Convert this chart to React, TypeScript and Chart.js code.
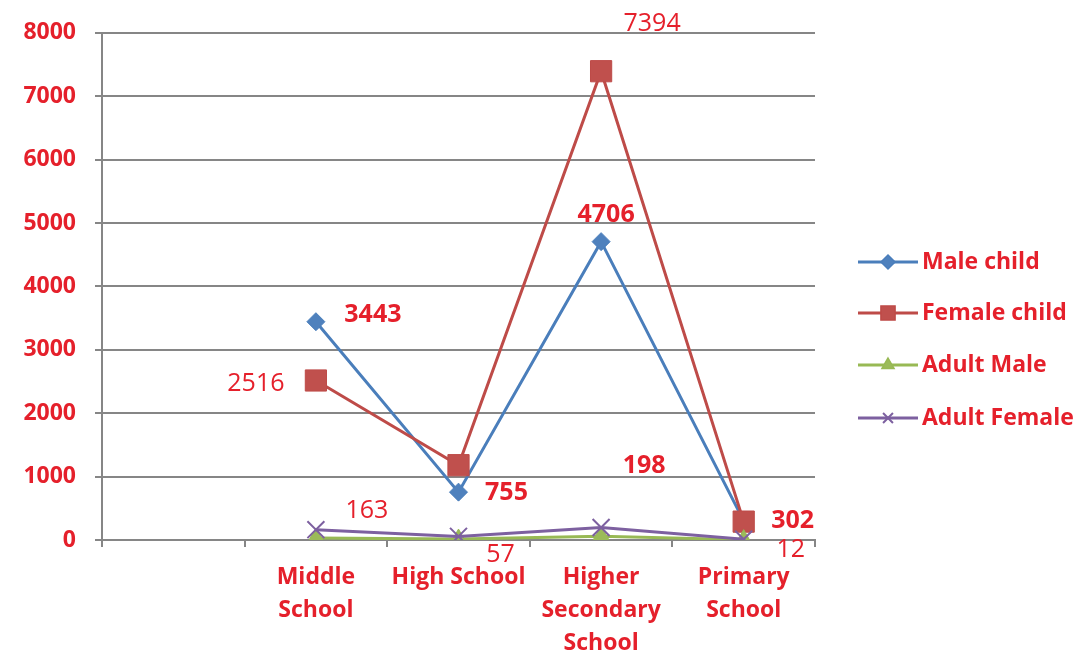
import React, { useEffect, useRef } from "react";
import { Chart, registerables } from "chart.js";

Chart.register(...registerables);

// ---- data ----
const categories: (string | string[])[] = [
  "",
  ["Middle", "School"],
  ["High School"],
  ["Higher", "Secondary", "School"],
  ["Primary", "School"],
];
const seriesNames = ["Male child", "Female child", "Adult Male", "Adult Female"];
const maleChild = [null, 3443, 755, 4706, 302];
const femaleChild = [null, 2516, 1180, 7394, 290];
const adultMale = [null, 30, 15, 60, 5];
const adultFemale = [null, 163, 57, 198, 12];
const yMin = 0;
const yMax = 8000;
const yStep = 1000;

// value labels: series index, point index, text, bold
const valueLabels = [
  { s: 0, i: 1, text: "3443", bold: true },
  { s: 1, i: 1, text: "2516", bold: false },
  { s: 0, i: 2, text: "755", bold: true },
  { s: 3, i: 1, text: "163", bold: false },
  { s: 3, i: 2, text: "57", bold: false },
  { s: 0, i: 3, text: "4706", bold: true },
  { s: 1, i: 3, text: "7394", bold: false },
  { s: 3, i: 3, text: "198", bold: true },
  { s: 0, i: 4, text: "302", bold: true },
  { s: 3, i: 4, text: "12", bold: false },
];
// label offsets from their point (style)
const labelOffsets = [
  [57, -7], [-60, 3], [48, 1], [51, -19], [42, 18],
  [5, -27], [51, -47], [43, -62], [49, 0], [47, 11],
];

const FONT = "'Open Sans'";
const RED = "#e5202b";
const GRID = "#868686";
const colors = ["#4a7ebb", "#be4b48", "#98b954", "#7d60a0"];
const fills = ["#4f81bd", "#c0504d", "#9bbb59", "#8064a2"];
const styles = ["rectRot", "rect", "triangle", "crossRot"];
const radii = [9, 15, 10, 12];

function drawMarker(ctx: CanvasRenderingContext2D, style: string, x: number, y: number, r: number, fill: string, stroke: string) {
  ctx.save();
  ctx.fillStyle = fill;
  ctx.strokeStyle = stroke;
  ctx.lineWidth = 1.5;
  ctx.beginPath();
  if (style === "rectRot") {
    ctx.moveTo(x, y - r); ctx.lineTo(x + r, y); ctx.lineTo(x, y + r); ctx.lineTo(x - r, y); ctx.closePath();
    ctx.fill(); ctx.stroke();
  } else if (style === "rect") {
    const s = r * Math.SQRT1_2;
    ctx.rect(x - s, y - s, 2 * s, 2 * s); ctx.fill(); ctx.stroke();
  } else if (style === "triangle") {
    const h = r;
    ctx.moveTo(x, y - h); ctx.lineTo(x + h * 0.866, y + h * 0.5); ctx.lineTo(x - h * 0.866, y + h * 0.5); ctx.closePath();
    ctx.fill(); ctx.stroke();
  } else {
    const s = r * Math.SQRT1_2;
    ctx.lineWidth = 2;
    ctx.moveTo(x - s, y - s); ctx.lineTo(x + s, y + s);
    ctx.moveTo(x + s, y - s); ctx.lineTo(x - s, y + s);
    ctx.stroke();
  }
  ctx.restore();
}

const labelPlugin = {
  id: "valueLabels",
  afterDatasetsDraw(chart: any) {
    const ctx = chart.ctx as CanvasRenderingContext2D;
    ctx.save();
    ctx.textAlign = "center";
    ctx.textBaseline = "middle";
    ctx.fillStyle = RED;
    valueLabels.forEach((l, k) => {
      const el = chart.getDatasetMeta(l.s).data[l.i];
      if (!el) return;
      ctx.font = `${l.bold ? "bold " : ""}25px ${FONT}`;
      ctx.fillText(l.text, el.x + labelOffsets[k][0], el.y + labelOffsets[k][1]);
    });
    ctx.restore();
  },
};

const legendPlugin = {
  id: "sideLegend",
  afterDraw(chart: any) {
    const ctx = chart.ctx as CanvasRenderingContext2D;
    const x0 = 858;
    const ys = [262, 313, 365, 418];
    ctx.save();
    seriesNames.forEach((name, k) => {
      const y = ys[k];
      ctx.strokeStyle = colors[k];
      ctx.lineWidth = 3;
      ctx.beginPath();
      ctx.moveTo(x0, y);
      ctx.lineTo(x0 + 60, y);
      ctx.stroke();
      drawMarker(ctx, styles[k], x0 + 30, y, k === 1 ? 10 : 7, fills[k], colors[k]);
      ctx.fillStyle = RED;
      ctx.font = `bold 23px ${FONT}`;
      ctx.textAlign = "left";
      ctx.textBaseline = "middle";
      ctx.fillText(name, x0 + 64, y);
    });
    ctx.restore();
  },
};

export default function App() {
  const ref = useRef<HTMLCanvasElement | null>(null);
  useEffect(() => {
    if (!ref.current) return;
    const series = [maleChild, femaleChild, adultMale, adultFemale];
    const chart = new Chart(ref.current, {
      type: "line",
      data: {
        labels: categories as any,
        datasets: series.map((d, k) => ({
          label: seriesNames[k],
          data: d as any,
          borderColor: colors[k],
          backgroundColor: fills[k],
          pointBackgroundColor: fills[k],
          pointBorderColor: colors[k],
          pointBorderWidth: k === 3 ? 2 : 1,
          borderWidth: 3,
          pointStyle: styles[k] as any,
          pointRadius: radii[k],
          tension: 0,
          order: 4 - k,
        })),
      },
      options: {
        animation: false,
        responsive: false,
        events: [],
        layout: { padding: { top: 30, right: 273, left: 0, bottom: 0 } },
        plugins: { legend: { display: false }, tooltip: { enabled: false } },
        scales: {
          x: {
            offset: true,
            grid: {
              offset: true,
              drawOnChartArea: false,
              drawTicks: true,
              tickLength: 7,
              color: GRID,
              lineWidth: 2,
            },
            border: { color: GRID, width: 2 },
            ticks: {
              color: RED,
              font: { family: FONT, size: 23, weight: "bold", lineHeight: 1.43 },
              padding: 14,
              maxRotation: 0,
              autoSkip: false,
            },
            afterFit(scale: any) { scale.height = 122; },
          },
          y: {
            min: yMin,
            max: yMax,
            grid: { color: GRID, lineWidth: 2, tickLength: 7 },
            border: { color: GRID, width: 2 },
            ticks: {
              stepSize: yStep,
              color: RED,
              padding: 19,
              font: { family: FONT, size: 23, weight: "bold" },
              callback: (v: any) => String(v),
            },
            afterFit(scale: any) { scale.width = 102; },
          },
        },
      },
      plugins: [labelPlugin, legendPlugin],
    });
    return () => chart.destroy();
  }, []);
  return (
    <div style={{ position: "fixed", left: 0, top: 0, width: 1088, height: 662, background: "#fff" }}>
      <canvas ref={ref} width={1088} height={662} style={{ display: "block" }} />
    </div>
  );
}
